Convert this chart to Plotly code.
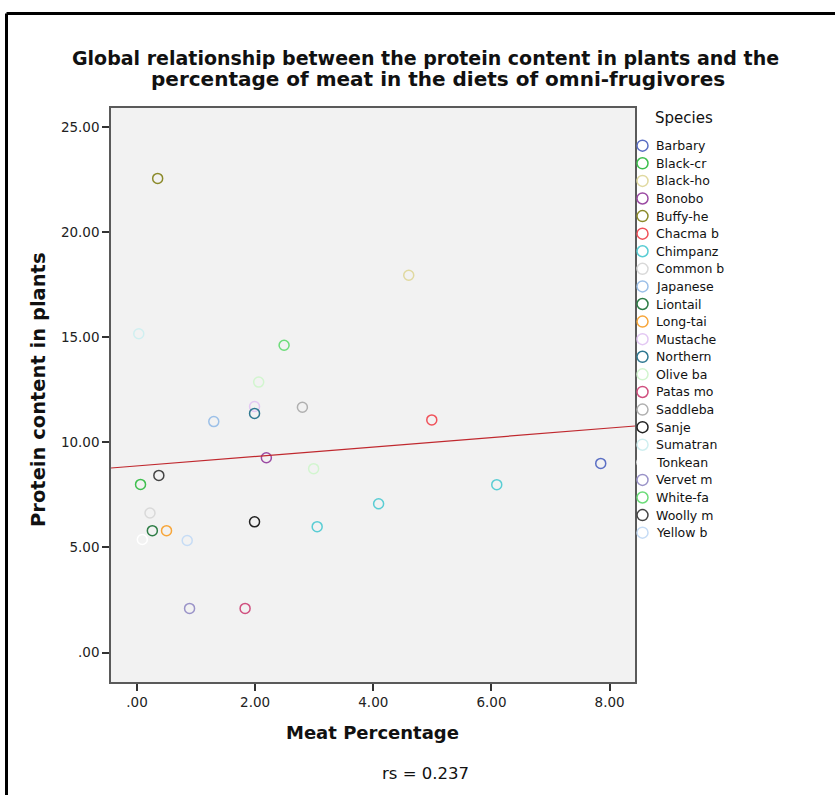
import plotly.graph_objects as go

# ---- data ----
species = ["Barbary", "Black-cr", "Black-ho", "Bonobo", "Buffy-he", "Chacma b",
           "Chimpanz", "Common b", "Japanese", "Liontail", "Long-tai", "Mustache",
           "Northern", "Olive ba", "Patas mo", "Saddleba", "Sanje", "Sumatran",
           "Tonkean", "Vervet m", "White-fa", "Woolly m", "Yellow b"]

meat = [[7.85], [0.06], [4.60], [2.19], [0.35], [4.99],
        [3.05, 4.09, 6.09], [0.22], [1.30], [0.26], [0.50], [1.99],
        [1.99], [2.06, 2.99], [1.83], [2.80], [1.99], [0.03],
        [0.09], [0.89], [2.49], [0.37], [0.85]]

protein = [[9.00], [8.00], [17.95], [9.27], [22.56], [11.07],
           [5.99, 7.08, 7.99], [6.64], [10.99], [5.80], [5.80], [11.71],
           [11.38], [12.87, 8.75], [2.10], [11.67], [6.22], [15.17],
           [5.38], [2.10], [14.62], [8.43], [5.33]]

colors = ["#5b6fc4", "#3fbf4f", "#e0d9a0", "#9b4ba3", "#8b8a2a", "#f0525a",
          "#5acdd4", "#d9d9d9", "#9cc0e8", "#2e7d46", "#f7a63a", "#e3c8f3",
          "#2f7891", "#d2f5cf", "#d0507f", "#b0b0b0", "#222222", "#d0eff0",
          "#ffffff", "#9a93c8", "#6ddc7a", "#444444", "#c6dcf5"]

# linear fit line
fit_intercept = 8.88
fit_slope = 0.2253

x_ticks = [0, 2, 4, 6, 8]
x_ticktext = [".00", "2.00", "4.00", "6.00", "8.00"]
y_ticks = [0, 5, 10, 15, 20, 25]
y_ticktext = [".00", "5.00", "10.00", "15.00", "20.00", "25.00"]

x_range = [-0.44, 8.43]
y_range = [-1.40, 25.91]

# ---- layout geometry (screen pixels) ----
W, H = 835, 795
PL, PR, PT, PB = 111, 635, 108, 682   # plot rectangle

FONT = "DejaVu Sans"
TXT = "#111111"

fig = go.Figure()

for name, xs, ys, c in zip(species, meat, protein, colors):
    fig.add_trace(go.Scatter(
        x=xs, y=ys, mode="markers", name=name, showlegend=False,
        marker=dict(symbol="circle-open", size=10, color=c, line=dict(width=1.5, color=c)),
        xaxis="x", yaxis="y",
    ))

fig.add_trace(go.Scatter(
    x=x_range, y=[fit_intercept + fit_slope * v for v in x_range],
    mode="lines", line=dict(color="#c0292f", width=1.2), showlegend=False,
    hoverinfo="skip", xaxis="x", yaxis="y",
))

# ---- hand-made legend on a full-page pixel overlay axis ----
LEG_X, LEG_Y0, LEG_DY = 642.5, 145.7, 17.59
leg_y = [LEG_Y0 + i * LEG_DY for i in range(len(species))]
fig.add_trace(go.Scatter(
    x=[LEG_X] * len(species), y=leg_y, mode="markers", showlegend=False,
    hoverinfo="text", text=species,
    marker=dict(symbol="circle-open", size=11, color=colors, line=dict(width=1.5, color=colors)),
    xaxis="x2", yaxis="y2",
))
for name, yy in zip(species, leg_y):
    fig.add_annotation(text=name, xref="x2", yref="y2", x=LEG_X + 11, y=yy,
                       xanchor="left", yanchor="middle", showarrow=False,
                       font=dict(family=FONT, size=12.5, color=TXT))
fig.add_annotation(text="Species", xref="x2", yref="y2", x=653, y=117.5,
                   xanchor="left", yanchor="middle", showarrow=False,
                   font=dict(family=FONT, size=15, color=TXT))

axis_common = dict(showgrid=False, zeroline=False, showline=True, mirror=True,
                   linecolor="#5a5a5a", linewidth=1.5, ticks="outside", ticklen=7,
                   tickwidth=1.5, tickcolor="#333333",
                   tickfont=dict(family=FONT, size=13.5, color="#222222"))

fig.update_layout(
    width=W, height=H,
    margin=dict(l=0, r=0, t=0, b=0, pad=0),
    paper_bgcolor="white", plot_bgcolor="rgba(0,0,0,0)",
    font=dict(family=FONT, color=TXT),
    showlegend=False,
    xaxis=dict(domain=[PL / W, PR / W], range=x_range, tickvals=x_ticks,
               ticktext=x_ticktext, anchor="y", **axis_common),
    yaxis=dict(domain=[1 - PB / H, 1 - PT / H], range=y_range, tickvals=y_ticks,
               ticktext=y_ticktext, anchor="x", **axis_common),
    xaxis2=dict(domain=[0, 1], range=[0, W], visible=False, anchor="y2", fixedrange=True),
    yaxis2=dict(domain=[0, 1], range=[H, 0], visible=False, anchor="x2", fixedrange=True),
)

# plot-area background (below everything)
fig.add_shape(type="rect", xref="paper", yref="paper", x0=PL / W, x1=PR / W,
              y0=1 - PB / H, y1=1 - PT / H, fillcolor="#f2f2f2", line=dict(width=0),
              layer="below")

# Titles (pixel coordinates on overlay axis)
fig.add_annotation(text="<b>Global relationship between the protein content in plants and the</b>",
                   xref="x2", yref="y2", x=425.5, y=58, xanchor="center", yanchor="middle",
                   showarrow=False, font=dict(family=FONT, size=19, color=TXT))
fig.add_annotation(text="<b>percentage of meat in the diets of omni-frugivores</b>",
                   xref="x2", yref="y2", x=438, y=79, xanchor="center", yanchor="middle",
                   showarrow=False, font=dict(family=FONT, size=20, color=TXT))
fig.add_annotation(text="<b>Meat Percentage</b>", xref="x2", yref="y2", x=372, y=732,
                   xanchor="center", yanchor="middle", showarrow=False,
                   font=dict(family=FONT, size=18, color=TXT))
fig.add_annotation(text="<b>Protein content in plants</b>", xref="x2", yref="y2", x=38, y=390,
                   xanchor="center", yanchor="middle", showarrow=False, textangle=-90,
                   font=dict(family=FONT, size=19.5, color=TXT))
fig.add_annotation(text="rs = 0.237", xref="x2", yref="y2", x=425.5, y=773,
                   xanchor="center", yanchor="middle", showarrow=False,
                   font=dict(family=FONT, size=16.5, color=TXT))

# Outer frame (top and left black lines)
fig.add_shape(type="line", xref="x2", yref="y2", x0=6.5, x1=W + 5, y0=13.5, y1=13.5,
              line=dict(color="black", width=3))
fig.add_shape(type="line", xref="x2", yref="y2", x0=6.5, x1=6.5, y0=13.5, y1=H + 5,
              line=dict(color="black", width=3))

fig.write_html("out.html", config={"displayModeBar": False},
               post_script="document.body.style.margin='0';")
